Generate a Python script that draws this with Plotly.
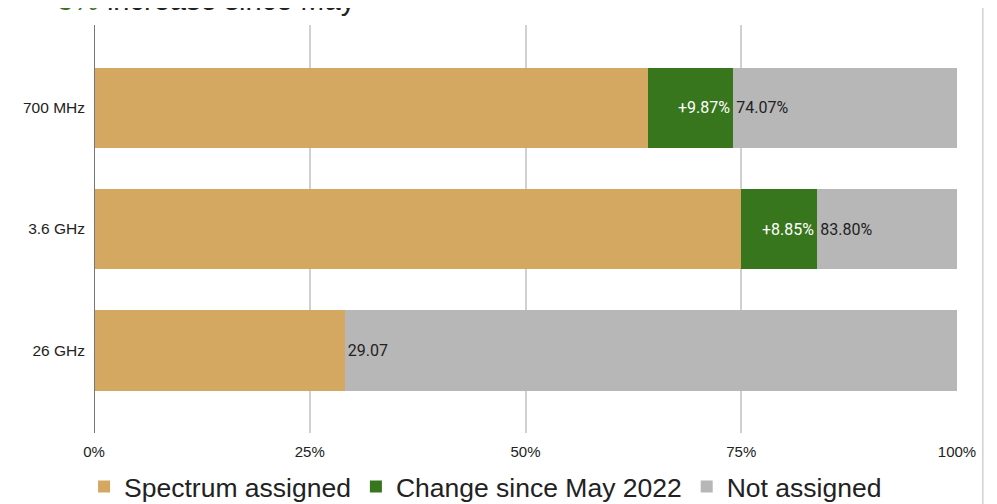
import plotly.graph_objects as go

categories = ["700 MHz", "3.6 GHz", "26 GHz"]
assigned = [64.20, 74.95, 29.07]
change = [9.87, 8.85, 0.0]
not_assigned = [25.93, 16.20, 70.93]
change_labels = ["+9.87%", "+8.85%", ""]
total_labels = ["74.07%", "83.80%", "29.07"]
x_ticks = [0, 25, 50, 75, 100]
x_tick_labels = ["0%", "25%", "50%", "75%", "100%"]

TAN = "#D5A862"
GREEN = "#38761D"
GRAY = "#B7B7B7"

fig = go.Figure()
fig.add_trace(go.Bar(
    y=categories, x=assigned, orientation="h", name="Spectrum assigned",
    marker=dict(color=TAN, line=dict(width=0)), hoverinfo="skip",
))
fig.add_trace(go.Bar(
    y=categories, x=change, orientation="h", name="Change since May 2022",
    marker=dict(color=GREEN, line=dict(width=0)),
    text=change_labels, textposition="inside", insidetextanchor="end",
    textfont=dict(color="white", size=16, family="Roboto"), hoverinfo="skip",
    textangle=0,
))
fig.add_trace(go.Bar(
    y=categories, x=not_assigned, orientation="h", name="Not assigned",
    marker=dict(color=GRAY, line=dict(width=0)),
    text=total_labels, textposition="inside", insidetextanchor="start",
    textfont=dict(color="#222222", size=16, family="Roboto"), hoverinfo="skip",
    textangle=0,
))

fig.update_layout(
    barmode="stack",
    bargap=0.34,
    width=997, height=504,
    margin=dict(l=86, r=48, t=17, b=79, autoexpand=False),
    plot_bgcolor="white", paper_bgcolor="white",
    font=dict(family="Liberation Sans, Arial", color="#222222"),
    uniformtext=dict(mode="show", minsize=13),
    legend=dict(
        orientation="h", xref="container", yref="container",
        x=0.479, xanchor="center", y=0.05, yanchor="middle",
        font=dict(size=26.5, family="Liberation Sans, Arial", color="#222222"),
        traceorder="normal", itemwidth=30,
    ),
    xaxis=dict(
        range=[0, 100], tickvals=x_ticks, ticktext=x_tick_labels,
        showgrid=True, gridcolor="#D0D0D0", gridwidth=1.5,
        zeroline=False, showline=False, automargin=False,
        ticks="outside", ticklen=5, tickcolor="rgba(255,255,255,0)",
        tickfont=dict(size=15, color="#222222"),
    ),
    yaxis=dict(
        categoryorder="array", categoryarray=categories[::-1],
        range=[-0.68, 2.68], showgrid=False, zeroline=False, automargin=False,
        showline=False, ticks="", ticklabelstandoff=8,
        tickfont=dict(size=15.5, color="#222222"),
    ),
    annotations=[dict(
        xref="paper", yref="paper", x=0, y=1, xanchor="left", yanchor="bottom",
        xshift=-56, yshift=7, showarrow=False,
        text="<span style='color:#38761D'>+3%</span> increase since May",
        font=dict(size=29, family="Liberation Sans", color="#222222"),
    )],
    shapes=[
        dict(type="line", xref="x", yref="paper", x0=0, x1=0, y0=0, y1=1,
             line=dict(color="#777777", width=2)),
        dict(type="line", xref="paper", yref="paper", x0=1.03, x1=1.03, y0=-0.3, y1=1.1,
             line=dict(color="#BBBBBB", width=1)),
    ],
)

fig.write_html("out.html")
